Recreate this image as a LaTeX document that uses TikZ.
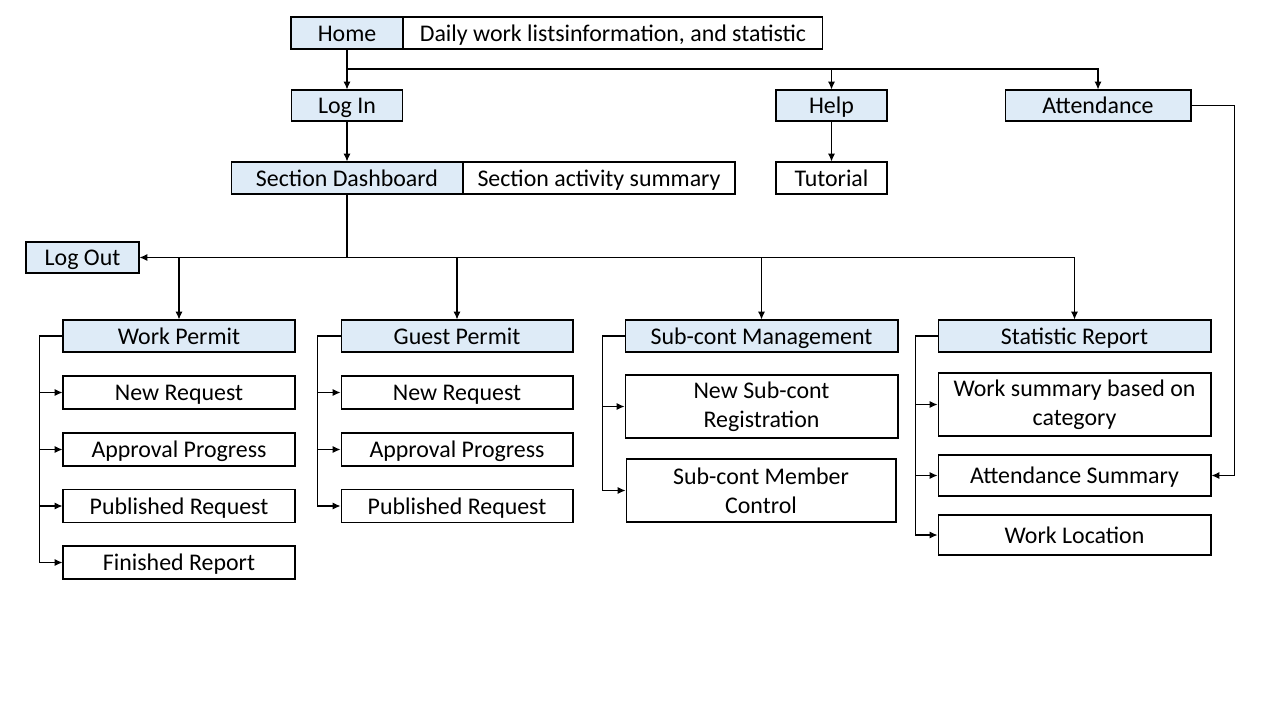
\documentclass[tikz,border=0pt]{standalone}
\usepackage{fontspec}
\setmainfont{Carlito}
\usetikzlibrary{arrows.meta}

\definecolor{boxblue}{RGB}{222,235,247}

\tikzset{
    box/.style={draw, line width=0.6pt, inner sep=1pt, align=center,
                font=\fontsize{13.6}{16.4}\selectfont,
                text height=12.6pt, text depth=3pt},
    tallbox/.style={draw, line width=0.6pt, inner sep=1pt, align=center,
                font=\fontsize{13.6}{16.4}\selectfont},
    headbox/.style={box, fill=boxblue},
    link/.style={line width=0.6pt, -{Latex[length=4.5pt,width=4pt]}}
}

\begin{document}
\begin{tikzpicture}[x=0.02cm, y=-0.02cm]
    \useasboundingbox (0,0) rectangle (1280,720);

    % top row
    \node[headbox, minimum width=2.24cm, minimum height=0.64cm] (home) at (347,33) {Home};
    \node[box, minimum width=8.4cm, minimum height=0.64cm] (daily) at (613,33) {Daily work listsinformation, and statistic};

    \node[headbox, minimum width=2.22cm, minimum height=0.62cm] (login) at (347,105.5) {Log In};
    \node[headbox, minimum width=2.22cm, minimum height=0.62cm] (help) at (831.5,105.5) {Help};
    \node[headbox, minimum width=3.72cm, minimum height=0.62cm] (attend) at (1098,105.5) {Attendance};

    \node[headbox, minimum width=4.64cm, minimum height=0.64cm] (dash) at (347,178) {Section Dashboard};
    \node[box, minimum width=5.44cm, minimum height=0.64cm] (summary) at (599,178) {Section activity summary};
    \node[box, minimum width=2.22cm, minimum height=0.64cm] (tutorial) at (831.5,178) {Tutorial};

    \node[headbox, minimum width=2.26cm, minimum height=0.62cm] (logout) at (82.5,257.5) {Log Out};

    % sections
    \node[headbox, minimum width=4.64cm, minimum height=0.64cm] (work) at (179,336) {Work Permit};
    \node[headbox, minimum width=4.64cm, minimum height=0.64cm] (guest) at (457,336) {Guest Permit};
    \node[headbox, minimum width=5.46cm, minimum height=0.64cm] (subcont) at (761.5,336) {Sub-cont Management};
    \node[headbox, minimum width=5.46cm, minimum height=0.64cm] (stat) at (1074.5,336) {Statistic Report};

    % work permit items
    \node[box, minimum width=4.64cm, minimum height=0.66cm] (wnew) at (179,392.5) {New Request};
    \node[box, minimum width=4.64cm, minimum height=0.66cm] (wappr) at (179,449.5) {Approval Progress};
    \node[box, minimum width=4.64cm, minimum height=0.66cm] (wpub) at (179,506) {Published Request};
    \node[box, minimum width=4.64cm, minimum height=0.66cm] (wfin) at (179,562.5) {Finished Report};

    % guest permit items
    \node[box, minimum width=4.64cm, minimum height=0.66cm] (gnew) at (457,392.5) {New Request};
    \node[box, minimum width=4.64cm, minimum height=0.66cm] (gappr) at (457,449.5) {Approval Progress};
    \node[box, minimum width=4.64cm, minimum height=0.66cm] (gpub) at (457,506) {Published Request};

    % sub-cont items
    \node[tallbox, minimum width=5.46cm, minimum height=1.26cm] (snew) at (761.5,406.5) {New Sub-cont\\Registration};
    \node[tallbox, minimum width=5.4cm, minimum height=1.26cm] (smem) at (761,490.5) {Sub-cont Member\\Control};

    % statistic items
    \node[tallbox, minimum width=5.46cm, minimum height=1.26cm] (rsum) at (1074.5,404.5) {Work summary based on\\category};
    \node[box, minimum width=5.46cm, minimum height=0.82cm] (ratt) at (1074.5,475.5) {Attendance Summary};
    \node[box, minimum width=5.46cm, minimum height=0.8cm] (rloc) at (1074.5,535) {Work Location};

    % links from home
    \coordinate (hj) at (347,69);
    \draw[link] (home.south) -- (login.north);
    \draw[link] (hj) -| (help.north);
    \draw[link] (hj) -| (attend.north);
    \draw[link] (login.south) -- (dash.north);
    \draw[link] (help.south) -- (tutorial.north);
    \draw[link] (attend.east) -- ++(43,0) |- (ratt.east);

    % links from dashboard
    \coordinate (dj) at (347,257.5);
    \draw[line width=0.6pt] (dash.south) -- (dj);
    \draw[link] (dj) -- (logout.east);
    \draw[link] (dj) -| (work.north);
    \draw[link] (dj) -| (guest.north);
    \draw[link] (dj) -| (subcont.north);
    \draw[link] (dj) -| (stat.north);

    % item brackets
    \foreach \item in {wnew,wappr,wpub,wfin}
        \draw[link] (work.west) -- ++(-23,0) |- (\item.west);
    \foreach \item in {gnew,gappr,gpub}
        \draw[link] (guest.west) -- ++(-23,0) |- (\item.west);
    \foreach \item in {snew,smem}
        \draw[link] (subcont.west) -- ++(-22,0) |- (\item.west);
    \foreach \item in {rsum,ratt,rloc}
        \draw[link] (stat.west) -- ++(-22,0) |- (\item.west);

\end{tikzpicture}
\end{document}
